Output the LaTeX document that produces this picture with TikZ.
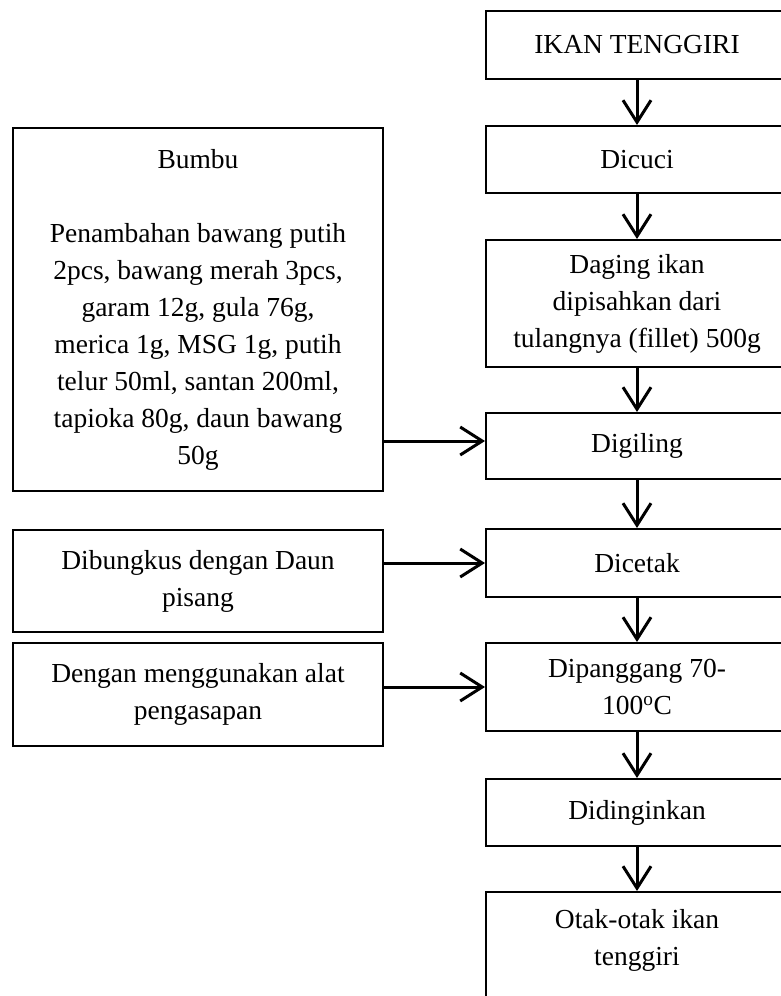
\documentclass[tikz,border=0pt]{standalone}
\usepackage{fontspec}
\setmainfont{Liberation Serif}
\usetikzlibrary{arrows.meta}

\tikzset{
    stepbox/.style={draw, line width=2pt, align=center, inner sep=0pt,
        font=\fontsize{27.5}{37}\selectfont},
    mainbox/.style={stepbox, minimum width=302pt},
    sidebox/.style={stepbox, minimum width=370pt},
    flow/.style={line width=3pt, -{Straight Barb[length=22pt,width=28pt]}}
}

\begin{document}
\begin{tikzpicture}[x=1pt,y=-1pt]
    % Fix the page to the size of the picture
    \clip (0,0) rectangle (781,996);
    \fill[white] (0,0) rectangle (781,996);

    % Main process column
    \node[mainbox, minimum height=68pt] (ikan) at (637,45) {IKAN TENGGIRI};
    \node[mainbox, minimum height=67pt] (dicuci) at (637,159.5) {Dicuci};
    \node[mainbox, minimum height=127pt] (daging) at (637,303.5) {Daging ikan\\dipisahkan dari\\tulangnya (fillet) 500g};
    \node[mainbox, minimum height=66pt] (digiling) at (637,446) {Digiling};
    \node[mainbox, minimum height=68pt] (dicetak) at (637,563) {Dicetak};
    \node[mainbox, minimum height=88pt] (panggang) at (637,687) {Dipanggang 70-\\100\textsuperscript{o}C};
    \node[mainbox, minimum height=67pt] (dingin) at (637,812.5) {Didinginkan};
    \node[mainbox, minimum height=150pt, anchor=north] (otak) at (637,891) {};
    \node[stepbox, draw=none] (otaktext) at (637,940) {Otak-otak ikan\\tenggiri};

    % Side inputs
    \node[sidebox, minimum height=363pt] (bumbu) at (198,309.5) {Bumbu\\[37pt]Penambahan bawang putih\\2pcs, bawang merah 3pcs,\\garam 12g, gula 76g,\\merica 1g, MSG 1g, putih\\telur 50ml, santan 200ml,\\tapioka 80g, daun bawang\\50g};
    \node[sidebox, minimum height=102pt] (bungkus) at (198,581) {Dibungkus dengan Daun\\pisang};
    \node[sidebox, minimum height=103pt] (asap) at (198,694.5) {Dengan menggunakan alat\\pengasapan};

    % Arrows down the column
    \draw[flow] (ikan) -- (dicuci);
    \draw[flow] (dicuci) -- (daging);
    \draw[flow] (daging) -- (digiling);
    \draw[flow] (digiling) -- (dicetak);
    \draw[flow] (dicetak) -- (panggang);
    \draw[flow] (panggang) -- (dingin);
    \draw[flow] (dingin) -- (otak);

    % Arrows from the side inputs
    \draw[flow] ([yshift=5pt]bumbu.east |- digiling.west) -- ([yshift=5pt]digiling.west);
    \draw[flow] (bungkus.east |- dicetak.west) -- (dicetak.west);
    \draw[flow] (asap.east |- panggang.west) -- (panggang.west);
\end{tikzpicture}
\end{document}
